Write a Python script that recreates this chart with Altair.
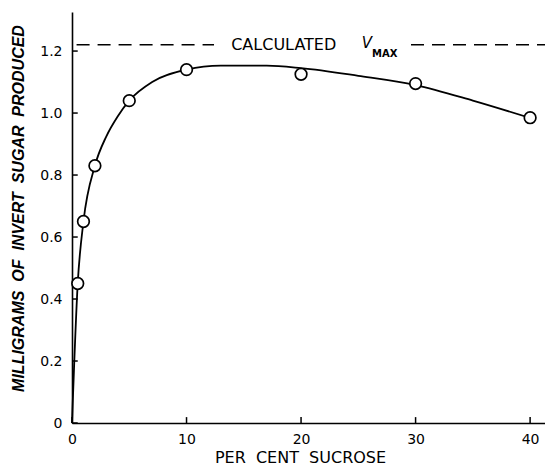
import altair as alt
import pandas as pd

# measured points
sucrose = [0.5, 1, 2, 5, 10, 20, 30, 40]
invert = [0.45, 0.65, 0.83, 1.04, 1.14, 1.125, 1.095, 0.985]

# fitted curve as drawn in the figure
curve_x = [0, 0.5, 1, 2, 3, 4, 5, 7, 10, 13, 17, 20, 25, 30, 35, 40]
curve_y = [0, 0.45, 0.65, 0.83, 0.925, 0.99, 1.04, 1.10, 1.14, 1.153, 1.153, 1.145, 1.12, 1.09, 1.04, 0.984]

x_ticks = [0, 10, 20, 30, 40]
y_ticks = [0, 0.2, 0.4, 0.6, 0.8, 1.0, 1.2]

vmax = 1.22
dash_start = [0.4, 29.6]
dash_end = [12.4, 41.3]

X_DOM = [0, 41.3]
Y_DOM = [0, 1.326]

S = "\u00a0\u00a0"  # wide word gaps as in the original lettering

pts = pd.DataFrame({"x": sucrose, "y": invert})
curve = pd.DataFrame({"x": curve_x, "y": curve_y})
dash = pd.DataFrame({"x": dash_start, "x2": dash_end, "y": [vmax] * 2})
xt = pd.DataFrame({"x": x_ticks, "y": [0] * len(x_ticks), "y2": [0.019] * len(x_ticks)})
yt = pd.DataFrame({"y": y_ticks, "x": [0] * len(y_ticks), "x2": [0.5] * len(y_ticks)})

xscale = alt.Scale(domain=X_DOM, nice=False, zero=False)
yscale = alt.Scale(domain=Y_DOM, nice=False, zero=False)

xaxis = alt.Axis(
    title=S.join(["PER", "CENT", "SUCROSE"]), values=x_ticks, ticks=False, grid=False,
    labelFont="DejaVu Sans", labelFontSize=14, labelColor="black", labelPadding=9,
    titleFont="DejaVu Sans", titleFontSize=16, titleFontWeight="normal", titleColor="black",
    titlePadding=3, titleX=228, titleAlign="center",
    domainColor="black", domainWidth=1.6, labelFlush=False,
)
yaxis = alt.Axis(
    title=S.join(["MILLIGRAMS", "OF", "INVERT", "SUGAR", "PRODUCED"]), values=y_ticks, ticks=False, grid=False,
    labelFont="DejaVu Sans", labelFontSize=14, labelColor="black", labelPadding=10,
    labelExpr="datum.value == 0 ? '0' : format(datum.value, '.1f')",
    titleFont="Liberation Sans", titleFontSize=16, titleFontWeight="bold", titleFontStyle="italic",
    titleColor="black", titleAngle=270, titleX=-54, titleY=196, titleAlign="center",
    titleBaseline="middle", domainColor="black", domainWidth=1.6, labelFlush=False,
)

line = alt.Chart(curve).mark_line(color="black", strokeWidth=1.8, interpolate="monotone").encode(
    x=alt.X("x:Q", scale=xscale, axis=xaxis),
    y=alt.Y("y:Q", scale=yscale, axis=yaxis),
)

dashes = alt.Chart(dash).mark_rule(color="black", strokeWidth=1.5, strokeDash=[13, 8]).encode(
    x="x:Q", x2="x2:Q", y="y:Q"
)

xticks = alt.Chart(xt).mark_rule(color="black", strokeWidth=1.5).encode(x="x:Q", y="y:Q", y2="y2:Q")
yticks = alt.Chart(yt).mark_rule(color="black", strokeWidth=1.5).encode(y="y:Q", x="x:Q", x2="x2:Q")

points = alt.Chart(pts).mark_point(
    shape="circle", size=135, filled=True, fill="white", stroke="black", strokeWidth=1.7, opacity=1
).encode(x="x:Q", y="y:Q")

lab = pd.DataFrame({"x": [13.9], "y": [vmax], "t": ["CALCULATED"]})
labv = pd.DataFrame({"x": [25.3], "y": [vmax], "t": ["V"]})
labm = pd.DataFrame({"x": [26.2], "y": [vmax], "t": ["MAX"]})

t1 = alt.Chart(lab).mark_text(align="left", baseline="middle", font="DejaVu Sans", fontSize=16, color="black").encode(
    x="x:Q", y="y:Q", text="t:N")
t2 = alt.Chart(labv).mark_text(align="left", baseline="middle", font="DejaVu Sans", fontSize=15, fontStyle="italic", fill="black", color="black", dy=-2).encode(
    x="x:Q", y="y:Q", text="t:N")
t3 = alt.Chart(labm).mark_text(align="left", baseline="middle", font="DejaVu Sans", fontSize=10, fontWeight="bold", color="black", dy=9).encode(
    x="x:Q", y="y:Q", text="t:N")

chart = alt.layer(line, dashes, xticks, yticks, points, t1, t2, t3).properties(
    width=473, height=411,
    autosize=alt.AutoSizeParams(type="none"),
    padding={"left": 72, "top": 12, "right": 0, "bottom": 44},
    background="white",
).configure_view(stroke=None)

chart.save("out.html", embed_options={"renderer": "svg", "actions": False})
